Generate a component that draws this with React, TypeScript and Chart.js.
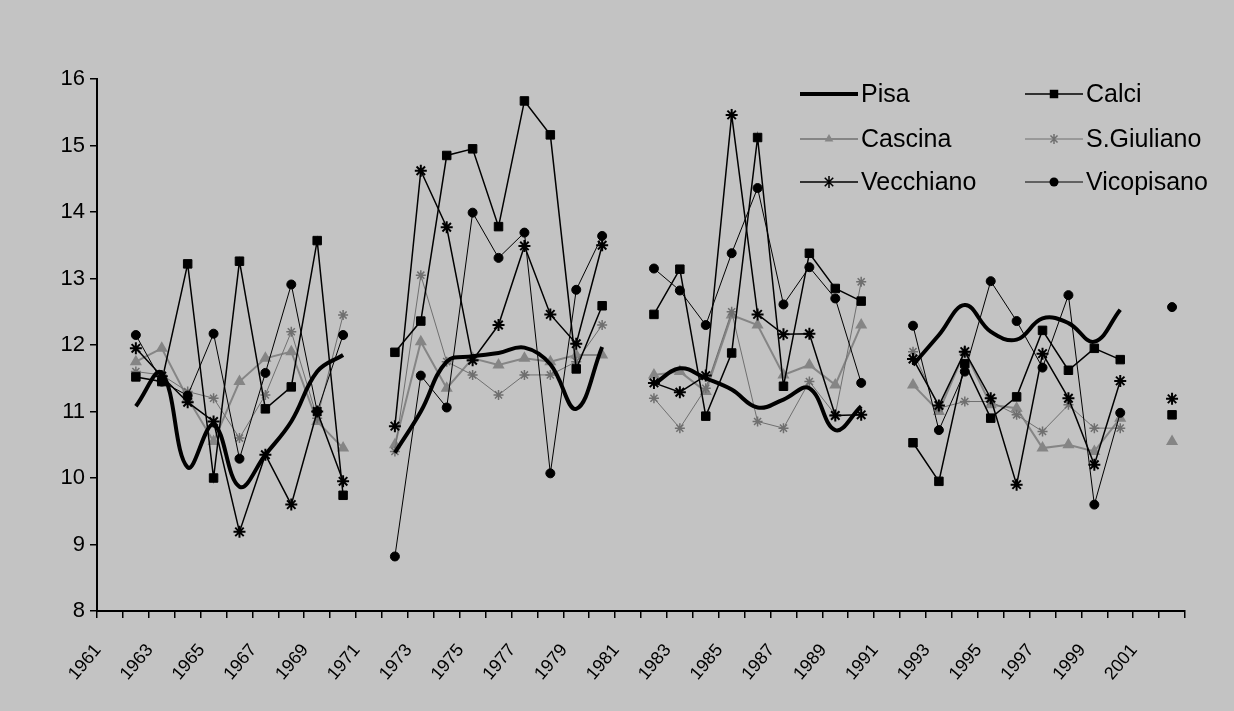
import React, { useEffect, useRef } from 'react';
import { Chart, registerables } from 'chart.js';

Chart.register(...registerables);

const years = [
  '1961', '1962', '1963', '1964', '1965', '1966', '1967', '1968', '1969', '1970',
  '1971', '1972', '1973', '1974', '1975', '1976', '1977', '1978', '1979', '1980',
  '1981', '1982', '1983', '1984', '1985', '1986', '1987', '1988', '1989', '1990',
  '1991', '1992', '1993', '1994', '1995', '1996', '1997', '1998', '1999', '2000',
  '2001', '2002',
];

const pisa = [
  null, 11.08, 11.58, 10.16, 10.8, 9.87, 10.35, 10.85, 11.6, 11.85,
  null, 10.38, 11.0, 11.75, 11.83, 11.88, 11.96, 11.71, 11.04, 11.97,
  null, 11.41, 11.65, 11.5, 11.33, 11.06, 11.18, 11.35, 10.72, 11.08,
  null, 11.7, 12.15, 12.6, 12.2, 12.08, 12.4, 12.33, 12.05, 12.53,
  null, null,
];

const calci = [
  null, 11.52, 11.45, 13.22, 10.0, 13.26, 11.04, 11.37, 13.57, 9.74,
  null, 11.89, 12.36, 14.85, 14.95, 13.78, 15.67, 15.16, 11.64, 12.59,
  null, 12.46, 13.14, 10.93, 11.88, 15.12, 11.38, 13.38, 12.85, 12.66,
  null, 10.53, 9.95, 11.72, 10.9, 11.22, 12.22, 11.62, 11.95, 11.78,
  null, 10.95,
];

const cascina = [
  null, 11.75, 11.95, 11.2, 10.55, 11.45, 11.8, 11.9, 10.85, 10.45,
  null, 10.5, 12.05, 11.35, 11.8, 11.7, 11.8, 11.75, 11.85, 11.85,
  null, 11.55, 11.6, 11.3, 12.45, 12.3, 11.55, 11.7, 11.4, 12.3,
  null, 11.4, 11.0, 11.9, 11.1, 11.05, 10.45, 10.5, 10.4, 10.9,
  null, 10.55,
];

const sGiuliano = [
  null, 11.6, 11.55, 11.3, 11.2, 10.6, 11.25, 12.2, 10.9, 12.45,
  null, 10.4, 13.05, 11.75, 11.55, 11.25, 11.55, 11.55, 11.75, 12.3,
  null, 11.2, 10.75, 11.35, 12.5, 10.85, 10.75, 11.45, 10.95, 12.95,
  null, 11.9, 11.05, 11.15, 11.15, 10.95, 10.7, 11.1, 10.75, 10.75,
  null, null,
];

const vecchiano = [
  null, 11.95, 11.53, 11.14, 10.85, 9.19, 10.35, 9.6, 11.0, 9.95,
  null, 10.78, 14.62, 13.77, 11.77, 12.3, 13.49, 12.46, 12.02, 13.5,
  null, 11.43, 11.29, 11.54, 15.46, 12.46, 12.16, 12.17, 10.94, 10.95,
  null, 11.79, 11.09, 11.9, 11.2, 9.9, 11.87, 11.2, 10.2, 11.46,
  null, 11.19,
];

const vicopisano = [
  null, 12.15, 11.45, 11.24, 12.17, 10.29, 11.58, 12.91, 11.0, 12.15,
  null, 8.82, 11.54, 11.06, 13.99, 13.31, 13.69, 10.07, 12.83, 13.64,
  null, 13.15, 12.82, 12.3, 13.38, 14.36, 12.61, 13.17, 12.7, 11.43,
  null, 12.29, 10.72, 11.6, 12.96, 12.36, 11.66, 12.75, 9.6, 10.98,
  null, 12.57,
];

const seriesNames = ['Pisa', 'Calci', 'Cascina', 'S.Giuliano', 'Vecchiano', 'Vicopisano'];

const FONT = '"Liberation Sans", Arial, sans-serif';
const BG = '#c3c3c3';
const GRAY1 = '#858585';
const GRAY2 = '#6f6f6f';

type MarkerStyle = 'none' | 'rect' | 'triangle' | 'star' | 'circle';

function drawMarker(ctx: CanvasRenderingContext2D, style: MarkerStyle, x: number, y: number, r: number, color: string) {
  ctx.save();
  ctx.fillStyle = color;
  ctx.strokeStyle = color;
  ctx.lineWidth = 1.5;
  ctx.beginPath();
  if (style === 'rect') {
    const s = r * Math.SQRT1_2;
    ctx.rect(x - s, y - s, 2 * s, 2 * s);
    ctx.fill();
  } else if (style === 'circle') {
    ctx.arc(x, y, r, 0, Math.PI * 2);
    ctx.fill();
  } else if (style === 'triangle') {
    ctx.moveTo(x, y - r);
    ctx.lineTo(x + r * 0.866, y + r * 0.5);
    ctx.lineTo(x - r * 0.866, y + r * 0.5);
    ctx.closePath();
    ctx.fill();
  } else if (style === 'star') {
    const d = r * Math.SQRT1_2;
    ctx.moveTo(x - d, y - d); ctx.lineTo(x + d, y + d);
    ctx.moveTo(x + d, y - d); ctx.lineTo(x - d, y + d);
    ctx.moveTo(x, y - r); ctx.lineTo(x, y + r);
    ctx.stroke();
  }
  ctx.restore();
}

const legendItems = [
  { label: seriesNames[0], col: 0, row: 0, color: '#000', width: 4, marker: 'none' as MarkerStyle, r: 0 },
  { label: seriesNames[1], col: 1, row: 0, color: '#000', width: 1.5, marker: 'rect' as MarkerStyle, r: 6 },
  { label: seriesNames[2], col: 0, row: 1, color: GRAY1, width: 2, marker: 'triangle' as MarkerStyle, r: 5 },
  { label: seriesNames[3], col: 1, row: 1, color: GRAY2, width: 1, marker: 'star' as MarkerStyle, r: 5 },
  { label: seriesNames[4], col: 0, row: 2, color: '#000', width: 1.5, marker: 'star' as MarkerStyle, r: 6 },
  { label: seriesNames[5], col: 1, row: 2, color: '#000', width: 1, marker: 'circle' as MarkerStyle, r: 4.5 },
];

const legendPlugin = {
  id: 'customLegend',
  afterDraw(chart: any) {
    const ctx: CanvasRenderingContext2D = chart.ctx;
    const colX = [800, 1025];
    const rowY = [94, 139, 182];
    ctx.save();
    for (const it of legendItems) {
      const x0 = colX[it.col];
      const x1 = x0 + 58;
      const y = rowY[it.row];
      ctx.strokeStyle = it.color;
      ctx.lineWidth = it.width;
      ctx.beginPath();
      ctx.moveTo(x0, y);
      ctx.lineTo(x1, y);
      ctx.stroke();
      if (it.marker !== 'none') drawMarker(ctx, it.marker, (x0 + x1) / 2, y, it.r, it.color);
      ctx.fillStyle = '#000';
      ctx.font = `25px ${FONT}`;
      ctx.textBaseline = 'middle';
      ctx.textAlign = 'left';
      ctx.fillText(it.label, x1 + 3, y + 1);
    }
    ctx.restore();
  },
};

export default function App() {
  const ref = useRef<HTMLCanvasElement | null>(null);

  useEffect(() => {
    document.body.style.margin = '0';
    const canvas = ref.current;
    if (!canvas) return;
    const chart = new Chart(canvas, {
      type: 'line',
      data: {
        labels: years,
        datasets: [
          {
            label: seriesNames[0], data: pisa, borderColor: '#000', borderWidth: 4,
            pointRadius: 0, tension: 0.4, spanGaps: false, order: 0,
          },
          {
            label: seriesNames[1], data: calci, borderColor: '#000', borderWidth: 1.5,
            pointStyle: 'rect', pointRadius: 6, pointBackgroundColor: '#000', pointBorderColor: '#000',
            pointBorderWidth: 1, tension: 0, spanGaps: false, order: 1,
          },
          {
            label: seriesNames[2], data: cascina, borderColor: GRAY1, borderWidth: 2,
            pointStyle: 'triangle', pointRadius: 5, pointBackgroundColor: GRAY1, pointBorderColor: GRAY1,
            tension: 0, spanGaps: false, order: 5,
          },
          {
            label: seriesNames[3], data: sGiuliano, borderColor: GRAY2, borderWidth: 1,
            pointStyle: 'star', pointRadius: 5, pointBackgroundColor: GRAY2, pointBorderColor: GRAY2,
            pointBorderWidth: 1.5, tension: 0, spanGaps: false, order: 4,
          },
          {
            label: seriesNames[4], data: vecchiano, borderColor: '#000', borderWidth: 1.5,
            pointStyle: 'star', pointRadius: 6, pointBackgroundColor: '#000', pointBorderColor: '#000',
            pointBorderWidth: 2, tension: 0, spanGaps: false, order: 2,
          },
          {
            label: seriesNames[5], data: vicopisano, borderColor: '#000', borderWidth: 1,
            pointStyle: 'circle', pointRadius: 4.5, pointBackgroundColor: '#000', pointBorderColor: '#000',
            tension: 0, spanGaps: false, order: 3,
          },
        ],
      },
      options: {
        responsive: false,
        animation: false,
        devicePixelRatio: 1,
        events: [],
        layout: { padding: { left: 0, right: 1234 - 1185, top: 79, bottom: 0 } },
        plugins: {
          legend: { display: false },
          tooltip: { enabled: false },
          title: { display: false },
        },
        scales: {
          x: {
            type: 'category',
            offset: true,
            grid: {
              offset: true, drawOnChartArea: false, drawTicks: true, tickLength: 7,
              color: '#000', lineWidth: 1.5,
            },
            border: { display: true, color: '#000', width: 2 },
            ticks: {
              autoSkip: false,
              minRotation: 50,
              maxRotation: 50,
              color: '#000',
              font: { family: FONT, size: 18 },
              padding: 22,
              labelOffset: -12,
              callback: (_v: any, i: number) => (i % 2 === 0 ? years[i] : ''),
            },
            afterFit: (s: any) => { s.height = 100; },
          },
          y: {
            min: 8,
            max: 16,
            grid: {
              drawOnChartArea: false, drawTicks: true, tickLength: 7,
              color: '#000', lineWidth: 1.5,
            },
            border: { display: true, color: '#000', width: 2 },
            ticks: {
              stepSize: 1,
              color: '#000',
              font: { family: FONT, size: 22 },
              padding: 5,
            },
            afterFit: (s: any) => { s.width = 97; },
          },
        },
      },
      plugins: [legendPlugin],
    } as any);
    return () => chart.destroy();
  }, []);

  return (
    <div style={{ position: 'absolute', left: 0, top: 0, width: 1234, height: 711, background: BG, overflow: 'hidden' }}>
      <canvas ref={ref} width={1234} height={711} style={{ display: 'block', width: 1234, height: 711 }} />
    </div>
  );
}
